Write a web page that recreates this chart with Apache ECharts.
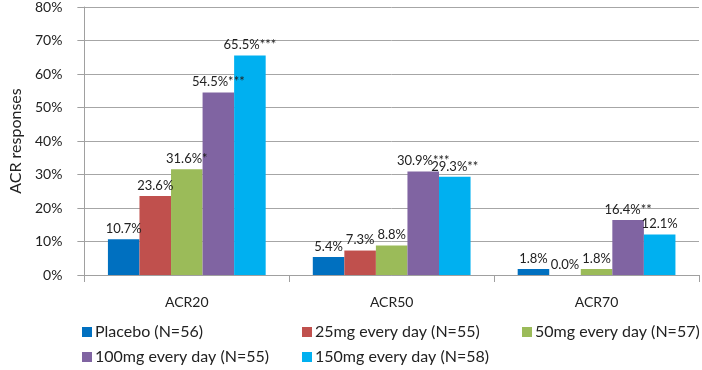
<!DOCTYPE html>
<html><head><meta charset="utf-8">
<script src="https://cdn.jsdelivr.net/npm/echarts@6/dist/echarts.min.js"></script>
<style>html,body{margin:0;padding:0;background:#fff}#c{width:702px;height:370px}</style>
</head><body><div id="c"></div>
<script>
var categories = ['ACR20', 'ACR50', 'ACR70'];
var seriesNames = ['Placebo (N=56)', '25mg every day (N=55)', '50mg every day (N=57)', '100mg every day (N=55)', '150mg every day (N=58)'];
var placebo = [10.7, 5.4, 1.8];
var mg25 = [23.6, 7.3, 0.0];
var mg50 = [31.6, 8.8, 1.8];
var mg100 = [54.5, 30.9, 16.4];
var mg150 = [65.5, 29.3, 12.1];
var sigPlacebo = ['', '', ''];
var sig25 = ['', '', ''];
var sig50 = ['*', '', ''];
var sig100 = ['***', '***', '**'];
var sig150 = ['***', '**', ''];
var yTicks = [0, 10, 20, 30, 40, 50, 60, 70, 80];

var colors = ['#0070C0', '#C0504D', '#9BBB59', '#8064A2', '#00B0F0'];
var allData = [placebo, mg25, mg50, mg100, mg150];
var allSig = [sigPlacebo, sig25, sig50, sig100, sig150];
var FONT = 'Lato, "Open Sans", sans-serif';

var series = allData.map(function (d, i) {
  return {
    name: seriesNames[i], type: 'bar', data: d,
    barCategoryGap: '23%', barGap: '0%',
    itemStyle: { color: colors[i] },
    label: {
      show: true, position: 'top', distance: 4,
      color: '#222', fontSize: 13, fontFamily: FONT,
      formatter: function (p) { return p.value.toFixed(1) + '%' + allSig[i][p.dataIndex]; }
    }
  };
});

var legendPos = [[77, 319], [297, 319], [517, 319], [77, 344], [297, 344]];
var legends = seriesNames.map(function (n, i) {
  return {
    data: [n], left: legendPos[i][0], top: legendPos[i][1],
    itemWidth: 10, itemHeight: 10, itemGap: 0, icon: 'rect',
    textStyle: { fontSize: 16, fontFamily: FONT, color: '#222', padding: [0, 0, 0, -2] },
    selectedMode: false
  };
});

var chart = echarts.init(document.getElementById('c'), null, { renderer: 'canvas' });
chart.setOption({
  animation: false,
  color: colors,
  grid: { left: 81, right: 3, top: 7, bottom: 95, containLabel: false },
  legend: legends,
  xAxis: {
    type: 'category', data: categories,
    axisLine: { lineStyle: { color: '#a0a0a0' } },
    axisTick: { show: true, length: 7, lineStyle: { color: '#a0a0a0' } },
    axisLabel: { fontSize: 14, fontFamily: FONT, color: '#222', margin: 20 }
  },
  yAxis: {
    type: 'value', min: 0, max: 80, interval: 10,
    name: 'ACR responses', nameLocation: 'middle', nameRotate: 90, nameGap: 60,
    nameTextStyle: { fontSize: 16, fontFamily: FONT, color: '#222' },
    axisLine: { show: true, lineStyle: { color: '#a0a0a0' } },
    axisTick: { show: true, length: 7, lineStyle: { color: '#a0a0a0' } },
    axisLabel: { fontSize: 14, fontFamily: FONT, color: '#222', margin: 22,
      formatter: function (v) { return yTicks.indexOf(v) >= 0 ? v + '%' : ''; } },
    splitLine: { lineStyle: { color: '#a6a6a6' } }
  },
  series: series
});
</script></body></html>
